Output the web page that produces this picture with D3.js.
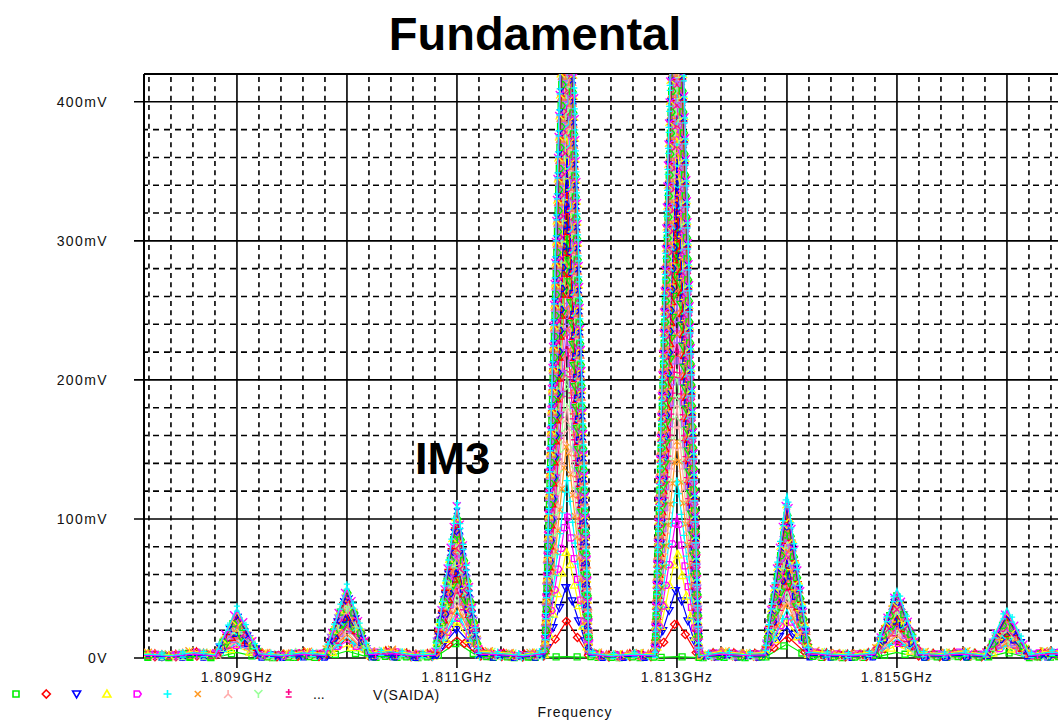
<!DOCTYPE html>
<html><head><meta charset="utf-8">
<script src="https://cdn.jsdelivr.net/npm/d3@7"></script>
<style>
body{margin:0;background:#fff;}
svg{display:block;font-family:Arial,"Liberation Sans",sans-serif;}
</style>
</head><body>
<svg id="c" width="1058" height="720"></svg>
<script>
// ---------------- data ----------------
const titleText = "Fundamental";
const annotationText = "IM3";
const legendName = "V(SAIDA)";
const xAxisTitle = "Frequency";
const yTickValues = [0, 100, 200, 300, 400];            // mV
const yTickLabels = ["0V", "100mV", "200mV", "300mV", "400mV"];
const xTickValues = [1809, 1811, 1813, 1815];           // MHz
const xTickLabels = ["1.809GHz", "1.811GHz", "1.813GHz", "1.815GHz"];

// spectral lines (MHz) and peak amplitude (mV) of each of the 30 sweep traces
const toneFreqs = [1809, 1810, 1811, 1812, 1813, 1814, 1815, 1816];
const im7Low  = [4,20,26,8,9,11,12,13,14,15,16,17,18,19,20,21,22,23,24,25,26,27,28,29,30,31,32,33,35,36];
const im5Low  = [5,14,27,9,12,15,17,19,21,23,25,27,29,31,33,35,36,38,39,41,42,44,45,46,47,48,49,50,51,52];
const im3Low  = [11,15,21,26,30,34,38,42,46,50,54,58,62,66,70,73,76,79,82,85,88,91,94,97,100,103,106,108,110,112];
const fund1   = [1,27,53,79,105,131,157,183,209,235,261,287,312,337,362,386,410,426,442,458,474,490,506,522,538,554,570,586,600,612];
const fund2   = [1,27,52,78,104,130,156,182,208,234,259,285,310,335,360,384,408,424,440,456,472,488,504,520,536,552,568,584,598,610];
const im3High = [10,16,22,27,31,35,40,44,48,52,56,60,64,68,72,76,79,82,85,88,91,94,97,100,103,106,109,113,116,119];
const im5High = [4,13,25,9,11,14,16,18,20,22,24,26,28,30,32,33,35,36,38,39,40,42,43,44,45,46,47,48,49,50];
const im7High = [4,20,25,8,9,10,11,12,13,14,15,16,17,18,19,20,21,22,23,24,25,26,27,28,29,30,31,33,34,36];

// small noise floor (mV) on the 0.2 MHz bins 1808.0 ... 1817.2, and per-trace floor weight
const floorLevels = [1.5,2.0,1.2,2.8,1.6,3.0,2.2,1.4,2.6,1.8, 1.0,2.4,3.2,1.6,2.0,1.2,2.8,2.2,1.4,3.0,
                     1.8,2.6,1.2,2.0,1.6,2.4,1.0,2.8,1.8,2.2, 1.4,3.0,2.0,1.6,2.6,1.2,2.4,1.8,2.8,1.4,
                     2.2,1.6,3.0,2.0,1.2,2.6,1.8];
const floorWeight = [0.2,0.5,1.3,0.8,1.6,0.4,1.1,0.7,1.8,0.9,1.4,0.6,1.2,1.7,0.3,
                     1.0,1.5,0.8,1.9,1.1,0.6,1.3,0.9,1.6,0.4,1.2,0.7,1.8,1.0,1.4];

const traceColors = ["#00ee00","#ff0000","#0000ff","#ffff00","#ff00ff","#00ffff",
                     "#ff9922","#ffaaaa","#99ff99","#ff0088","#aa66ff","#ff7744"];

// ---------------- setup ----------------
const toneTable = [im7Low, im5Low, im3Low, fund1, fund2, im3High, im5High, im7High];
const nTraces = fund1.length;
const svg = d3.select("#c");
const W = 1058, H = 720;
const pL = 144, pT = 74, pB = 658;
const x = d3.scaleLinear().domain([1808.155, 1817]).range([pL, pL + 8.845 * 110]);
const y = d3.scaleLinear().domain([0, 420]).range([pB, pT]);

const binFreqs = d3.range(9040, 9087).map(k => k / 5);   // 0.2 MHz bins

// symbols (PSpice-like)
const symbols = [
  "M-3,-3h6v6h-6z",
  "M0,-4L4,0L0,4L-4,0Z",
  "M-4,-3L4,-3L0,4Z",
  "M0,-4L4,3L-4,3Z",
  "M-3,-3L2,-3L4,0L2,3L-3,3Z",
  "M-4,0H4M0,-4V4",
  "M-3,-3L3,3M3,-3L-3,3",
  "M0,-4V0M0,0L-4,4M0,0L4,4",
  "M-4,-4L0,0L4,-4M0,0V4",
  "M-3,-2H3M0,-5V1M-3,3H3"
];

// ---------------- title ----------------
svg.append("text").attr("x", 535).attr("y", 50).attr("text-anchor", "middle")
  .attr("font-size", 47).attr("font-weight", "bold").attr("fill", "#000").text(titleText);

// ---------------- grid ----------------
const grid = svg.append("g");
d3.range(1, 21).map(k => k * 20).forEach(v => {
  const major = v % 100 === 0;
  grid.append("line")
    .attr("x1", major ? pL - 10 : pL).attr("x2", W)
    .attr("y1", y(v)).attr("y2", y(v))
    .attr("stroke", "#000").attr("stroke-width", 1.6)
    .attr("stroke-dasharray", major ? null : "6,5").attr("stroke-dashoffset", -9);
});
d3.range(9041, 9087).forEach(k => {
  const f = k / 5;
  const px = x(f);
  if (px <= pL + 1 || px > W + 2) return;
  const major = k % 5 === 0;
  grid.append("line")
    .attr("x1", px).attr("x2", px).attr("y1", pT).attr("y2", pB)
    .attr("stroke", "#000").attr("stroke-width", 1.6)
    .attr("stroke-dasharray", major ? null : "5,4.33").attr("stroke-dashoffset", -3);
});
grid.append("line").attr("x1", pL).attr("x2", W).attr("y1", pT).attr("y2", pT)
  .attr("stroke", "#000").attr("stroke-width", 2);
grid.append("line").attr("x1", pL).attr("x2", pL).attr("y1", pT).attr("y2", pB)
  .attr("stroke", "#000").attr("stroke-width", 2);
grid.append("line").attr("x1", pL - 10).attr("x2", W).attr("y1", pB).attr("y2", pB)
  .attr("stroke", "#000").attr("stroke-width", 1.6);

yTickValues.forEach((v, i) => {
  svg.append("text").attr("x", 108).attr("y", y(v)).attr("dy", "0.36em")
    .attr("text-anchor", "end").attr("font-size", 14).attr("letter-spacing", 1.4)
    .attr("fill", "#111").text(yTickLabels[i]);
});
xTickValues.forEach((f, i) => {
  grid.append("line").attr("x1", x(f)).attr("x2", x(f)).attr("y1", pB).attr("y2", pB + 10)
    .attr("stroke", "#000").attr("stroke-width", 1.6);
  svg.append("text").attr("x", x(f)).attr("y", 682).attr("text-anchor", "middle")
    .attr("font-size", 14).attr("letter-spacing", 1.2).attr("fill", "#111").text(xTickLabels[i]);
});

// ---------------- traces ----------------
svg.append("defs").append("clipPath").attr("id", "plotClip")
  .append("rect").attr("x", pL).attr("y", pT).attr("width", W - pL).attr("height", pB - pT + 5);

const plot = svg.append("g").attr("clip-path", "url(#plotClip)");
const line = d3.line().x(d => x(d.f)).y(d => y(d.v));

for (let t = 0; t < nTraces; t++) {
  const data = binFreqs.map((f, i) => {
    const ti = toneFreqs.indexOf(f);
    return { f, v: ti >= 0 ? toneTable[ti][t] : floorLevels[i] * floorWeight[t] };
  });
  const col = traceColors[t % traceColors.length];
  const p = plot.append("path").datum(data).attr("d", line)
    .attr("fill", "none").attr("stroke", col).attr("stroke-width", 1.2);
  const node = p.node();
  const L = node.getTotalLength();
  const step = 21;
  const sym = symbols[t % symbols.length];
  const mk = plot.append("g");
  for (let s = (t * 7) % step; s < L; s += step) {
    const pt = node.getPointAtLength(s);
    if (pt.x > W + 5) break;
    if (pt.y < pT - 6) continue;
    mk.append("path").attr("d", sym).attr("transform", `translate(${pt.x},${pt.y})`)
      .attr("fill", "none").attr("stroke", col).attr("stroke-width", 1.3);
  }
}

// ---------------- annotation ----------------
svg.append("text").attr("x", 415).attr("y", 474)
  .attr("font-size", 45).attr("font-weight", "bold").attr("fill", "#000").text(annotationText);

// ---------------- legend ----------------
const legY = 694;
for (let i = 0; i < 10; i++) {
  svg.append("path").attr("d", symbols[i]).attr("transform", `translate(${16 + i * 30.3},${legY})`)
    .attr("fill", "none").attr("stroke", traceColors[i]).attr("stroke-width", 1.6);
}
svg.append("text").attr("x", 313).attr("y", 699).attr("font-size", 14).attr("fill", "#111").text("...");
svg.append("text").attr("x", 373).attr("y", 700).attr("font-size", 14).attr("letter-spacing", 0.8)
  .attr("fill", "#111").text(legendName);
svg.append("text").attr("x", 575).attr("y", 717).attr("text-anchor", "middle")
  .attr("font-size", 14).attr("letter-spacing", 1).attr("fill", "#111").text(xAxisTitle);
</script>
</body></html>
